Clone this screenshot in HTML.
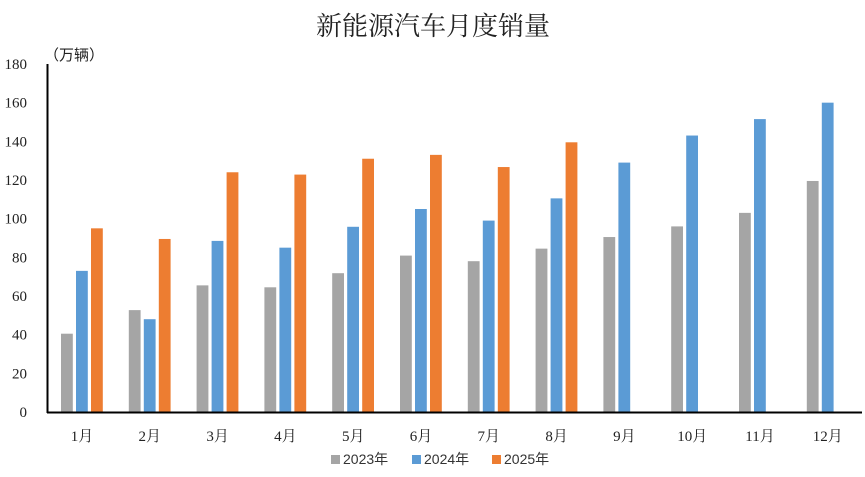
<!DOCTYPE html><html><head><meta charset="utf-8"><style>body{margin:0;background:#fff}</style></head><body>
<svg width="865" height="472" xmlns="http://www.w3.org/2000/svg" font-family="'Liberation Serif','Noto Serif CJK SC',serif">
<rect width="865" height="472" fill="#fff"/>
<text x="433" y="35" font-size="26" text-anchor="middle" fill="#222">新能源汽车月度销量</text>
<text x="44" y="60" font-size="15" fill="#222" font-family="'Liberation Sans','Noto Sans CJK SC',sans-serif">（万辆）</text>
<g font-size="15" fill="#222" text-anchor="end" font-family="'Liberation Serif',serif" id="yt"></g>
<g id="bars"></g>
<line x1="47.5" y1="64" x2="47.5" y2="413" stroke="#000" stroke-width="2"/>
<line x1="47" y1="412.5" x2="862" y2="412.5" stroke="#000" stroke-width="2"/>
<g id="xl" font-size="15" fill="#222" text-anchor="middle"></g>
<g font-size="14" fill="#333" font-family="'Liberation Sans','Noto Sans CJK SC',sans-serif">
<rect x="331" y="455" width="9" height="9" fill="#a5a5a5"/><text x="343" y="464">2023年</text>
<rect x="412" y="455" width="9" height="9" fill="#5b9bd5"/><text x="424" y="464">2024年</text>
<rect x="492" y="455" width="9" height="9" fill="#ed7d31"/><text x="504" y="464">2025年</text>
</g>
</svg>
<script>
var ns="http://www.w3.org/2000/svg";
function el(p,t,a,txt){var e=document.createElementNS(ns,t);for(var k in a)e.setAttribute(k,a[k]);if(txt)e.textContent=txt;document.getElementById(p).appendChild(e);}
var s=348/180;
for(var v=0;v<=180;v+=20)el("yt","text",{x:27,y:412-v*s+5},String(v));
var d=[[40.5,73,95],[52.7,48,89.5],[65.5,88.5,124],[64.5,85,122.8],[71.8,95.8,131],[80.9,105,133],[78,99,126.7],[84.5,110.5,139.5],[90.5,129],[96,143],[103,151.5],[119.5,160]];
var c=["#a5a5a5","#5b9bd5","#ed7d31"];
d.forEach(function(g,i){var x0=61+67.8*i;g.forEach(function(v,j){var h=v*s;el("bars","rect",{x:x0+15*j,y:412-h,width:11.8,height:h,fill:c[j]});});
el("xl","text",{x:x0+21,y:441},(i+1)+"月");});
</script>
</body></html>
